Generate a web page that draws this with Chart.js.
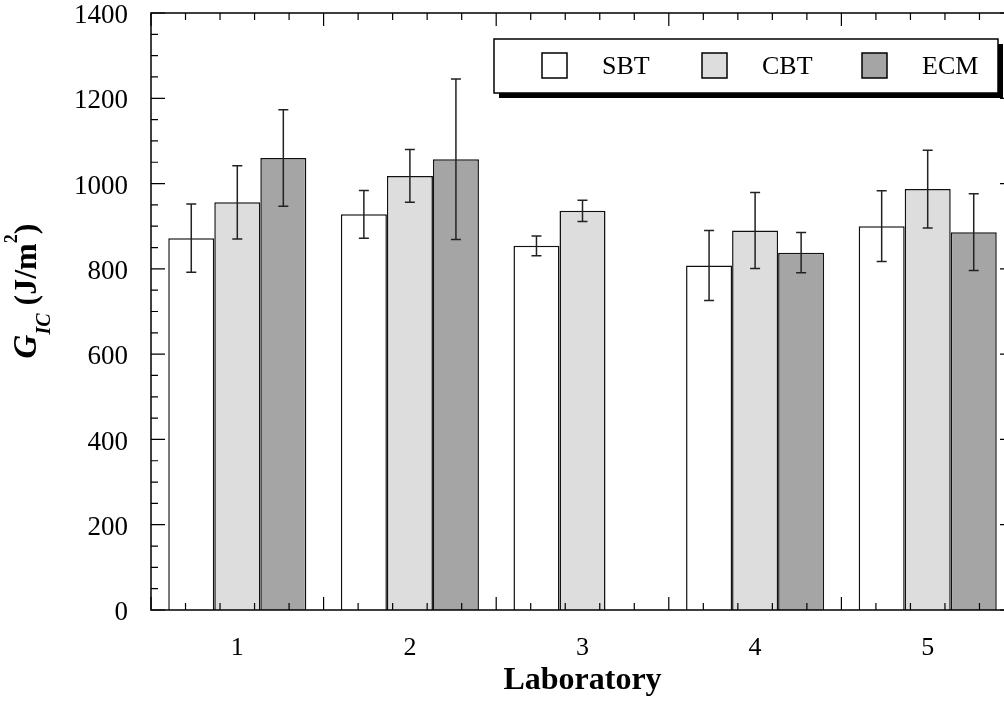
<!DOCTYPE html>
<html lang="en">
<head>
    <meta charset="UTF-8">
    <title>G_IC by Laboratory</title>
    <script src="https://cdn.jsdelivr.net/npm/chart.js"></script>
    <style>
        body {
            margin: 0;
            padding: 0;
            background-color: white;
            overflow: hidden;
        }
        .chart-container {
            width: 1020px; /* plot frame runs a little past the window's right edge */
            height: 701px;
        }
    </style>
</head>
<body>
    <div class="chart-container">
        <canvas id="gicChart"></canvas>
    </div>

    <script>
        const labs = ['1', '2', '3', '4', '5'];
        const sbt = [872, 928, 854, 808, 900];
        const sbtErr = [80, 56, 23, 82, 83];
        const cbt = [956, 1018, 936, 890, 987];
        const cbtErr = [86, 62, 25, 89, 91];
        const ecm = [1060, 1057, null, 838, 886];
        const ecmErr = [113, 188, null, 47, 90];
        const yTicks = [0, 200, 400, 600, 800, 1000, 1200, 1400];

        const serif = "'Liberation Serif', 'Times New Roman', serif";
        const errors = [sbtErr, cbtErr, ecmErr];

        // error bars, drawn from the data through the scales
        const errorBars = {
            id: 'errorBars',
            afterDatasetsDraw(chart) {
                const ctx = chart.ctx;
                const y = chart.scales.y;
                ctx.save();
                ctx.strokeStyle = '#222';
                ctx.lineWidth = 1.5;
                chart.data.datasets.forEach((ds, i) => {
                    const meta = chart.getDatasetMeta(i);
                    ds.data.forEach((v, j) => {
                        const e = errors[i][j];
                        if (v == null || e == null) return;
                        const x = meta.data[j].x;
                        const top = y.getPixelForValue(v + e);
                        const bot = y.getPixelForValue(v - e);
                        ctx.beginPath();
                        ctx.moveTo(x, top); ctx.lineTo(x, bot);
                        ctx.moveTo(x - 5, top); ctx.lineTo(x + 5, top);
                        ctx.moveTo(x - 5, bot); ctx.lineTo(x + 5, bot);
                        ctx.stroke();
                    });
                });
                ctx.restore();
            }
        };

        // frame with inward ticks on all four sides
        const frameTicks = {
            id: 'frameTicks',
            afterDatasetsDraw(chart) {
                const ctx = chart.ctx;
                const {left, right, top, bottom} = chart.chartArea;
                const y = chart.scales.y;
                ctx.save();
                ctx.strokeStyle = '#000';
                ctx.lineWidth = 1.5;
                ctx.strokeRect(left, top, right - left, bottom - top);
                ctx.lineWidth = 1.2;
                ctx.beginPath();
                for (let v = 0; v <= 1400; v += 50) {
                    const py = y.getPixelForValue(v);
                    const len = v % 200 === 0 ? 14 : 7;
                    ctx.moveTo(left, py); ctx.lineTo(left + len, py);
                    ctx.moveTo(right, py); ctx.lineTo(right - len, py);
                }
                const step = (right - left) / labs.length / 5;
                for (let k = 0; k <= labs.length * 5; k++) {
                    const px = left + k * step;
                    const len = k % 5 === 0 ? 13 : 7;
                    ctx.moveTo(px, bottom); ctx.lineTo(px, bottom - len);
                    ctx.moveTo(px, top); ctx.lineTo(px, top + len);
                }
                ctx.stroke();
                ctx.restore();
            }
        };

        // y title with subscript and superscript
        const yTitle = {
            id: 'yTitle',
            afterDraw(chart) {
                const ctx = chart.ctx;
                const parts = [
                    {t: 'G', f: 'italic bold 33px ' + serif, dy: 0},
                    {t: 'IC', f: 'italic bold 20px ' + serif, dy: 14},
                    {t: ' (J/m', f: 'bold 32px ' + serif, dy: 0},
                    {t: '2', f: 'bold 18px ' + serif, dy: -19},
                    {t: ')', f: 'bold 32px ' + serif, dy: 0}
                ];
                ctx.save();
                ctx.fillStyle = '#000';
                ctx.textBaseline = 'alphabetic';
                let total = 0;
                parts.forEach(p => { ctx.font = p.f; p.w = ctx.measureText(p.t).width; total += p.w; });
                ctx.translate(36, 291);
                ctx.rotate(-Math.PI / 2);
                let x = -total / 2;
                parts.forEach(p => {
                    ctx.font = p.f;
                    ctx.fillText(p.t, x, p.dy);
                    x += p.w;
                });
                ctx.restore();
            }
        };

        // framed legend with a drop shadow
        const boxLegend = {
            id: 'boxLegend',
            afterDraw(chart) {
                const ctx = chart.ctx;
                const bx = 494, by = 39, bw = 504, bh = 54;
                ctx.save();
                ctx.fillStyle = '#000';
                ctx.fillRect(bx + 5, by + 5, bw, bh);
                ctx.fillStyle = '#fff';
                ctx.fillRect(bx, by, bw, bh);
                ctx.strokeStyle = '#000';
                ctx.lineWidth = 1.5;
                ctx.strokeRect(bx, by, bw, bh);
                ctx.font = '26px ' + serif;
                ctx.textBaseline = 'middle';
                chart.data.datasets.forEach((ds, i) => {
                    const sx = 542 + i * 160;
                    ctx.fillStyle = ds.backgroundColor;
                    ctx.fillRect(sx, 53, 25, 25);
                    ctx.strokeStyle = '#000';
                    ctx.lineWidth = 1.5;
                    ctx.strokeRect(sx, 53, 25, 25);
                    ctx.fillStyle = '#000';
                    ctx.fillText(ds.label, sx + 60, 67);
                });
                ctx.restore();
            }
        };

        const ctx = document.getElementById('gicChart').getContext('2d');

        const chart = new Chart(ctx, {
            type: 'bar',
            data: {
                labels: labs,
                datasets: [
                    {label: 'SBT', data: sbt, backgroundColor: '#ffffff'},
                    {label: 'CBT', data: cbt, backgroundColor: '#dcdddc'},
                    {label: 'ECM', data: ecm, backgroundColor: '#a5a5a5'}
                ]
            },
            options: {
                responsive: true,
                maintainAspectRatio: false,
                animation: false,
                layout: {padding: {top: 13, right: 6, left: 0, bottom: 0}},
                datasets: {
                    bar: {
                        borderColor: '#111',
                        borderWidth: 1.5,
                        categoryPercentage: 0.8,
                        barPercentage: 1.0
                    }
                },
                scales: {
                    x: {
                        grid: {display: false},
                        border: {display: false},
                        ticks: {color: '#000', font: {family: serif, size: 26}, padding: 15},
                        title: {
                            display: true,
                            text: 'Laboratory',
                            color: '#000',
                            font: {family: serif, size: 32, weight: 'bold'},
                            padding: {top: 0, bottom: 1}
                        },
                        afterFit(scale) {
                            scale.height = 91;
                            scale.paddingLeft = 0;
                            scale.paddingRight = 0;
                        }
                    },
                    y: {
                        min: 0,
                        max: 1400,
                        grid: {display: false},
                        border: {display: false},
                        afterBuildTicks(scale) { scale.ticks = yTicks.map(v => ({value: v})); },
                        ticks: {
                            color: '#000',
                            font: {family: serif, size: 27},
                            padding: 15,
                            labelOffset: 3,
                            callback: v => String(v)
                        },
                        afterFit(scale) {
                            scale.width = 151;
                            scale.paddingTop = 0;
                            scale.paddingBottom = 0;
                        }
                    }
                },
                plugins: {
                    legend: {display: false},
                    tooltip: {enabled: false}
                }
            },
            plugins: [frameTicks, errorBars, yTitle, boxLegend]
        });
    </script>
</body>
</html>
